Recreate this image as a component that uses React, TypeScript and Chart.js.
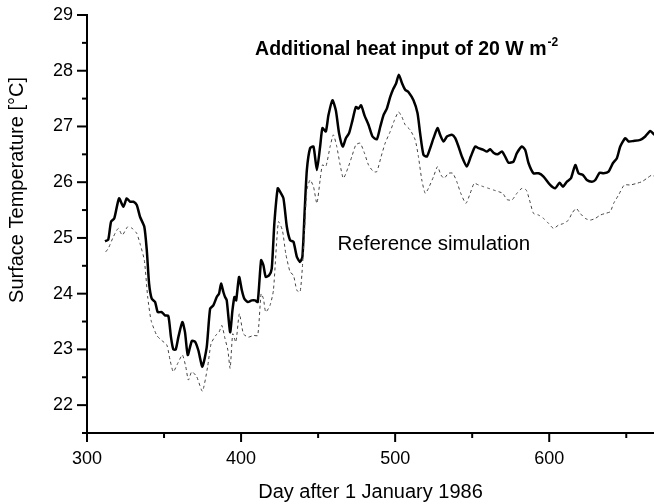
import React, { useEffect, useRef } from "react";
import { Chart, registerables } from "chart.js";

Chart.register(...registerables);

const FONT = "'Liberation Sans', Arial, Helvetica, sans-serif";

const xTitle = "Day after 1 January 1986";
const yTitle = "Surface Temperature [°C]";
const heatLabel = "Additional heat input of 20 W m";
const heatLabelSup = "-2";
const refLabel = "Reference simulation";

const xMin = 300;
const xMax = 668;
const yMin = 21.5;
const yMax = 29;

const heatDays = [
  311.7, 313.8, 315.6, 317.7, 320.8, 323.6, 325.8, 327.9, 330.1, 332.3, 334.4, 337.2, 338.8, 340.3,
  342.0, 344.2, 345.9, 348.5, 350.6, 352.8, 354.5, 356.0, 357.6, 359.3, 361.9, 363.6, 365.4, 368.0,
  370.1, 372.3, 374.9, 377.7, 379.9, 382.0, 384.2, 385.7, 387.0, 388.5, 389.6, 390.7, 392.9, 394.4,
  395.7, 396.8, 398.7, 400.5, 402.1, 404.4, 406.9, 409.1, 410.8, 413.0, 414.5, 416.0, 418.2, 419.9,
  421.6, 423.8, 425.3, 427.5, 429.7, 431.8, 434.0, 436.2, 438.3, 439.8, 441.3, 442.7, 444.8, 447.0,
  449.2, 451.3, 452.8, 455.0, 456.7, 459.3, 461.5, 463.6, 466.0, 468.0, 470.1, 472.3, 474.5, 476.2,
  477.9, 480.1, 482.7, 485.3, 488.1, 490.3, 492.4, 494.6, 496.8, 498.9, 500.6, 502.4, 504.4, 506.5,
  508.6, 511.9, 514.5, 516.2, 518.4, 520.6, 522.7, 524.9, 527.5, 529.2, 531.4, 533.6, 536.8, 539.0,
  541.1, 543.3, 546.5, 549.1, 551.9, 554.1, 557.3, 559.5, 561.7, 563.8, 566.4, 569.3, 571.4, 573.6,
  576.8, 579.0, 582.3, 584.4, 586.6, 589.8, 593.1, 596.3, 600.6, 603.9, 606.7, 608.9, 611.5, 614.1,
  616.9, 619.0, 621.9, 624.4, 627.7, 629.9, 632.7, 635.3, 638.5, 641.3, 643.9, 646.1, 649.4, 651.5,
  654.7, 659.1, 662.3, 665.6, 668.2,
];
const heatTemps = [
  24.94, 24.97, 25.29, 25.35, 25.71, 25.56, 25.71, 25.65, 25.65, 25.59, 25.38, 25.2, 24.78, 24.18,
  23.91, 23.85, 23.67, 23.67, 23.61, 23.6, 23.22, 23.0, 23.0, 23.22, 23.49, 23.31, 22.9, 23.15,
  23.14, 22.98, 22.69, 23.04, 23.73, 23.79, 23.94, 24.0, 24.18, 24.03, 23.94, 23.88, 23.31, 23.7,
  23.94, 23.88, 24.3, 24.06, 23.91, 23.85, 23.88, 23.88, 23.85, 24.6, 24.51, 24.3, 24.33, 24.45,
  25.26, 25.89, 25.83, 25.71, 25.2, 24.96, 24.93, 24.66, 24.57, 24.66, 25.5, 26.22, 26.61, 26.64,
  26.22, 26.64, 26.97, 26.91, 27.2, 27.47, 27.29, 26.88, 26.64, 26.79, 26.88, 27.11, 27.35, 27.32,
  27.38, 27.2, 27.03, 26.82, 26.77, 26.99, 27.2, 27.32, 27.53, 27.68, 27.77, 27.93, 27.78, 27.66,
  27.62, 27.47, 27.24, 26.88, 26.49, 26.46, 26.61, 26.79, 26.97, 26.85, 26.73, 26.82, 26.85, 26.79,
  26.64, 26.46, 26.28, 26.46, 26.64, 26.61, 26.58, 26.55, 26.59, 26.53, 26.5, 26.55, 26.46, 26.35,
  26.37, 26.52, 26.64, 26.58, 26.34, 26.16, 26.16, 26.1, 25.95, 25.89, 25.99, 25.92, 26.01, 26.07,
  26.31, 26.16, 26.13, 26.04, 26.01, 26.04, 26.17, 26.16, 26.19, 26.34, 26.43, 26.64, 26.79, 26.73,
  26.74, 26.76, 26.82, 26.92, 26.85,
];

const refDays = [
  312.1, 313.8, 317.1, 320.3, 322.9, 326.4, 329.4, 332.3, 334.4, 337.2, 339.4, 341.6, 345.3, 348.5,
  351.8, 353.9, 356.0, 358.9, 361.9, 364.1, 365.8, 368.0, 371.2, 374.9, 378.3, 380.5, 383.5, 385.7,
  387.5, 389.6, 391.4, 392.9, 394.6, 396.6, 398.9, 401.5, 404.7, 408.0, 410.8, 413.0, 414.5, 416.0,
  418.8, 421.0, 424.2, 426.8, 429.0, 431.8, 434.0, 436.2, 438.3, 439.8, 441.3, 442.7, 444.8, 447.0,
  449.2, 451.3, 452.8, 455.0, 457.8, 459.9, 462.1, 464.3, 466.4, 469.3, 471.9, 474.5, 477.3, 480.1,
  482.7, 485.9, 488.1, 490.9, 493.5, 496.8, 499.5, 502.2, 504.4, 506.5, 509.7, 513.0, 515.1, 517.3,
  519.5, 521.6, 524.9, 527.5, 529.7, 531.8, 534.6, 537.4, 540.0, 542.6, 545.9, 548.7, 551.3, 554.1,
  557.3, 560.6, 563.8, 567.1, 569.9, 572.5, 575.8, 579.0, 582.3, 585.1, 587.2, 589.8, 593.1, 596.3,
  599.6, 602.8, 606.0, 609.3, 612.5, 614.7, 617.5, 620.1, 623.4, 626.6, 629.9, 633.1, 636.4, 639.6,
  641.8, 645.0, 648.7, 652.6, 656.9, 660.2, 663.4, 666.7, 668.2,
];
const refTemps = [
  24.75, 24.81, 25.02, 25.17, 25.05, 25.2, 25.17, 25.08, 24.9, 24.6, 23.94, 23.52, 23.25, 23.16,
  23.08, 22.81, 22.6, 22.75, 22.9, 22.69, 22.45, 22.6, 22.51, 22.25, 22.69, 23.1, 23.25, 23.31,
  23.43, 23.19, 22.99, 22.66, 23.28, 23.13, 23.64, 23.28, 23.22, 23.25, 23.25, 24.0, 23.91, 23.67,
  23.79, 24.06, 25.29, 25.14, 24.72, 24.39, 24.33, 24.06, 24.03, 24.48, 25.2, 25.86, 26.04, 25.92,
  25.62, 26.04, 26.31, 26.28, 26.64, 26.85, 26.64, 26.31, 26.07, 26.25, 26.46, 26.67, 26.7, 26.52,
  26.31, 26.19, 26.19, 26.46, 26.7, 26.91, 27.11, 27.26, 27.17, 27.03, 26.94, 26.76, 26.46, 26.04,
  25.8, 25.89, 26.1, 26.28, 26.13, 26.07, 26.16, 26.16, 26.01, 25.8, 25.62, 25.8, 25.98, 25.95,
  25.92, 25.89, 25.86, 25.83, 25.8, 25.69, 25.68, 25.8, 25.89, 25.86, 25.68, 25.44, 25.41, 25.35,
  25.26, 25.17, 25.23, 25.26, 25.32, 25.44, 25.53, 25.44, 25.35, 25.32, 25.35, 25.41, 25.44, 25.47,
  25.62, 25.77, 25.95, 25.95, 25.98, 26.01, 26.07, 26.13, 26.1,
];

const toPoints = (xs: number[], ys: number[]) => xs.map((x, i) => ({ x, y: ys[i] }));

const decorPlugin = {
  id: "decor",
  afterDraw(chart: any) {
    const ctx = chart.ctx;
    const xs = chart.scales.x;
    const ys = chart.scales.y;
    const area = chart.chartArea;
    ctx.save();
    ctx.strokeStyle = "#000";
    ctx.lineWidth = 2;
    // tick marks (outward, long for labelled ticks)
    xs.ticks.forEach((t: any) => {
      const px = xs.getPixelForValue(t.value);
      const len = t.value % 100 === 0 ? 9 : 5;
      ctx.beginPath();
      ctx.moveTo(px, area.bottom);
      ctx.lineTo(px, area.bottom + len);
      ctx.stroke();
    });
    ys.ticks.forEach((t: any) => {
      const py = ys.getPixelForValue(t.value);
      const len = Math.abs(t.value - Math.round(t.value)) < 1e-6 ? 10 : 5;
      ctx.beginPath();
      ctx.moveTo(area.left, py);
      ctx.lineTo(area.left - len, py);
      ctx.stroke();
    });
    // y axis title
    ctx.fillStyle = "#000";
    ctx.font = `20px ${FONT}`;
    ctx.textAlign = "center";
    ctx.textBaseline = "middle";
    ctx.translate(17, ys.getPixelForValue(25.86));
    ctx.rotate(-Math.PI / 2);
    ctx.fillText(yTitle, 0, 0);
    ctx.restore();

    // annotations
    ctx.save();
    ctx.fillStyle = "#000";
    ctx.textAlign = "left";
    ctx.textBaseline = "alphabetic";
    ctx.font = `bold 19.5px ${FONT}`;
    const hx = xs.getPixelForValue(409.1);
    const hy = ys.getPixelForValue(28.28);
    ctx.fillText(heatLabel, hx, hy);
    const w = ctx.measureText(heatLabel).width;
    ctx.font = `bold 12px ${FONT}`;
    ctx.fillText(heatLabelSup, hx + w + 1, hy - 9);
    ctx.font = `20.5px ${FONT}`;
    ctx.fillText(refLabel, xs.getPixelForValue(462.6), ys.getPixelForValue(24.78));
    ctx.restore();
  },
};

export default function App() {
  const ref = useRef<HTMLCanvasElement | null>(null);
  useEffect(() => {
    if (!ref.current) return;
    const chart = new Chart(ref.current, {
      type: "line",
      data: {
        datasets: [
          {
            label: "Reference simulation",
            data: toPoints(refDays, refTemps),
            borderColor: "#444",
            borderWidth: 1,
            borderDash: [3, 3],
            pointRadius: 0,
            tension: 0.2,
            fill: false,
          },
          {
            label: "Additional heat input",
            data: toPoints(heatDays, heatTemps),
            borderColor: "#000",
            borderWidth: 2.5,
            pointRadius: 0,
            tension: 0.2,
            fill: false,
          },
        ],
      },
      options: {
        animation: false,
        responsive: false,
        maintainAspectRatio: false,
        layout: { padding: { top: 15, right: 0, left: 0, bottom: 0 } },
        plugins: { legend: { display: false }, tooltip: { enabled: false }, title: { display: false } },
        scales: {
          x: {
            type: "linear",
            min: xMin,
            max: xMax,
            grid: { drawOnChartArea: false, drawTicks: true, tickLength: 9, tickColor: "rgba(0,0,0,0)" },
            border: { display: true, color: "#000", width: 2 },
            ticks: {
              stepSize: 50,
              includeBounds: false,
              autoSkip: false,
              maxRotation: 0,
              color: "#000",
              padding: 6,
              font: { family: FONT, size: 18 },
              callback: (v: any) => (Number(v) % 100 === 0 ? String(v) : ""),
            },
            title: {
              display: true,
              text: xTitle,
              color: "#000",
              font: { family: FONT, size: 20 },
              padding: { top: 8, bottom: 0 },
            },
            afterFit: (s: any) => {
              s.height = 71;
            },
          },
          y: {
            type: "linear",
            min: yMin,
            max: yMax,
            grid: { drawOnChartArea: false, drawTicks: true, tickLength: 10, tickColor: "rgba(0,0,0,0)" },
            border: { display: true, color: "#000", width: 2 },
            ticks: {
              stepSize: 0.5,
              includeBounds: false,
              autoSkip: false,
              color: "#000",
              padding: 4,
              font: { family: FONT, size: 18 },
              callback: (v: any) => (Math.abs(Number(v) - Math.round(Number(v))) < 1e-6 ? String(Math.round(Number(v))) : ""),
            },
            afterFit: (s: any) => {
              s.width = 87;
            },
          },
        },
      },
      plugins: [decorPlugin],
    });
    return () => chart.destroy();
  }, []);
  return (
    <div style={{ position: "absolute", left: 0, top: 0, width: 654, height: 504, background: "#fff" }}>
      <canvas ref={ref} width={654} height={504} style={{ display: "block" }} />
    </div>
  );
}
